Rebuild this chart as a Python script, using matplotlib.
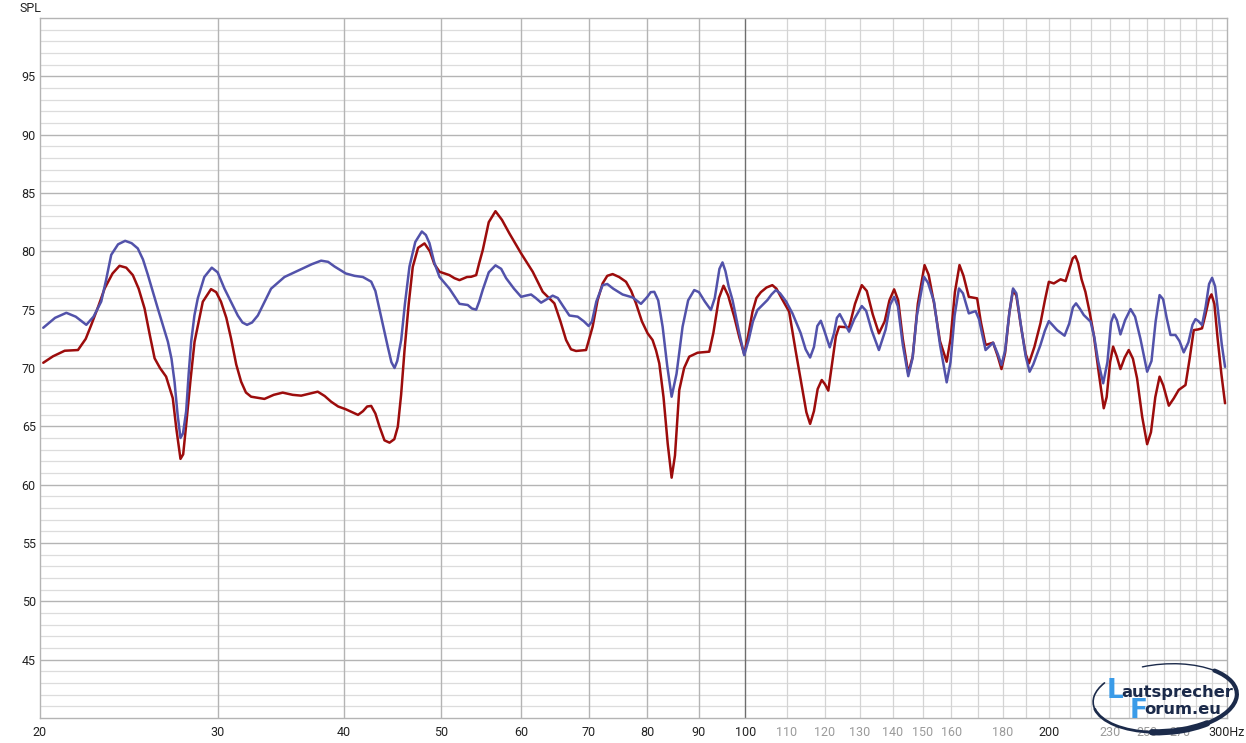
import matplotlib
matplotlib.use("Agg")
import matplotlib.pyplot as plt
from matplotlib.patches import Arc

# ---------------- data ----------------
blue_f = [20.15, 20.7, 21.24, 21.7, 22.23, 22.6, 23.0, 23.25, 23.53, 23.9, 24.29, 24.65, 25.0,
          25.3, 25.58, 26.17, 26.78, 27.0, 27.19, 27.38, 27.56, 27.72, 27.92, 28.08, 28.24,
          28.45, 28.67, 29.1, 29.6, 30.0, 30.47, 31.41, 31.75, 32.08, 32.45, 32.88, 33.4,
          33.89, 34.94, 36.58, 37.2, 37.99, 38.6, 39.17, 40.2, 41.0, 41.79, 42.59, 43.0,
          43.41, 44.24, 44.6, 44.92, 45.2, 45.61, 46.0, 46.48, 47.1, 47.81, 48.25, 48.65,
          49.2, 49.78, 50.92, 52.1, 53.09, 53.6, 54.12, 54.5, 54.94, 55.7, 56.56, 57.3,
          57.95, 59.0, 59.97, 60.6, 61.35, 62.0, 62.77, 63.6, 64.45, 65.2, 66.0, 66.95,
          68.23, 69.2, 69.96, 70.5, 71.2, 72.23, 73.0, 74.0, 75.6, 77.34, 78.84, 80.0,
          80.6, 81.27, 82.0, 82.83, 83.7, 84.55, 85.5, 86.69, 87.8, 89.03, 90.0, 91.2,
          92.48, 93.3, 94.3, 94.96, 95.6, 96.3, 97.16, 98.5, 99.78, 100.8, 101.8, 102.85,
          105.2, 106.2, 107.26, 108.3, 109.8, 111.4, 113.5, 114.8, 115.98, 117.0, 117.9,
          118.85, 119.8, 121.3, 122.5, 123.3, 124.1, 125.2, 126.77, 128.3, 130.5, 131.8,
          133.5, 135.7, 137.8, 139.2, 140.5, 141.7, 143.3, 145.1, 146.5, 148.0, 150.4,
          151.8, 153.9, 156.0, 158.4, 159.8, 161.3, 162.9, 164.4, 166.6, 169.2, 170.5,
          173.1, 176.1, 178.0, 179.5, 181.0, 182.8, 184.3, 185.7, 187.7, 189.7, 191.4,
          193.0, 196.2, 198.2, 200.0, 201.6, 203.8, 207.3, 209.5, 211.3, 212.8, 214.6,
          216.6, 220.0, 221.9, 223.8, 226.4, 228.6, 230.5, 232.0, 233.6, 235.5, 238.0,
          241.0, 243.5, 246.5, 250.3, 252.8, 255.2, 257.5, 259.6, 261.7, 264.0, 267.0,
          269.5, 272.1, 275.0, 277.6, 279.5, 281.5, 283.7, 286.0, 288.3, 290.3, 292.3,
          294.5, 296.8, 299.0]
blue_db = [73.45, 74.3, 74.73, 74.4, 73.7, 74.4, 75.7, 77.5, 79.7, 80.6, 80.9, 80.7, 80.25,
           79.3, 78.0, 75.1, 72.25, 70.8, 68.8, 66.0, 64.0, 64.4, 66.3, 69.5, 72.25,
           74.5, 75.97, 77.8, 78.6, 78.2, 76.8, 74.5, 73.9, 73.7, 73.9, 74.5, 75.7,
           76.8, 77.8, 78.6, 78.9, 79.2, 79.1, 78.7, 78.1, 77.9, 77.8, 77.4, 76.6,
           75.0, 71.8, 70.5, 70.0, 70.6, 72.4, 75.5, 78.7, 80.8, 81.7, 81.4, 80.7,
           79.0, 77.8, 76.8, 75.5, 75.4, 75.1, 75.0, 75.7, 76.7, 78.2, 78.8, 78.5,
           77.7, 76.8, 76.1, 76.2, 76.3, 76.0, 75.6, 75.9, 76.2, 76.0, 75.3, 74.5,
           74.4, 74.0, 73.6, 74.0, 75.7, 77.1, 77.2, 76.8, 76.3, 76.05, 75.5, 76.1,
           76.5, 76.53, 75.8, 73.54, 70.2, 67.54, 69.5, 73.54, 75.8, 76.68, 76.5, 75.7,
           74.97, 76.0, 78.5, 79.05, 78.3, 77.0, 75.82, 73.3, 71.1, 72.4, 74.0, 74.97,
           75.82, 76.3, 76.68, 76.4, 75.7, 74.68, 73.0, 71.6, 70.9, 71.8, 73.6,
           74.05, 73.2, 71.77, 73.0, 74.3, 74.62, 74.0, 73.11, 74.2, 75.31, 74.9,
           73.2, 71.54, 73.3, 75.4, 76.1, 75.3, 72.0, 69.3, 70.8, 74.5, 77.82,
           77.3, 75.68, 72.0, 68.77, 70.5, 74.5, 76.82, 76.4, 74.68, 74.88, 74.2,
           71.54, 72.17, 71.2, 70.26, 71.5, 74.8, 76.82, 76.4, 73.6, 71.0, 69.68,
           70.3, 71.97, 73.2, 74.02, 73.7, 73.25, 72.77, 73.8, 75.2, 75.54, 75.1,
           74.54, 73.97, 72.6, 70.6, 68.69, 70.5, 73.9, 74.6, 74.1, 72.88, 74.1,
           75.05, 74.4, 72.5, 69.68, 70.6, 74.0, 76.25, 75.9, 74.3, 72.83, 72.83,
           72.3, 71.34, 72.2, 73.7, 74.19, 74.0, 73.68, 75.2, 77.2, 77.73, 77.0,
           74.6, 72.0, 70.1]

red_f = [20.15, 20.6, 21.16, 21.81, 22.2, 22.48, 22.85, 23.18, 23.6, 23.98, 24.35, 24.72,
         25.05, 25.39, 25.7, 25.98, 26.3, 26.67, 27.08, 27.3, 27.56, 27.73, 27.92, 28.2,
         28.46, 29.0, 29.55, 29.9, 30.23, 30.6, 30.93, 31.3, 31.65, 32.0, 32.38, 33.38,
         34.1, 34.8, 35.6, 36.3, 37.0, 37.7, 38.3, 38.87, 39.5, 40.2, 40.8, 41.33, 41.8,
         42.2, 42.59, 43.0, 43.41, 43.9, 44.41, 44.9, 45.26, 45.6, 45.96, 46.4, 46.83,
         47.4, 48.1, 48.7, 49.2, 49.78, 50.92, 51.5, 52.1, 53.0, 53.5, 54.12, 54.5,
         54.94, 55.7, 56.56, 57.4, 58.39, 59.97, 61.58, 63.0, 64.7, 65.6, 66.45, 67.2,
         67.98, 69.55, 70.6, 71.4, 72.23, 73.0, 73.9, 75.0, 76.19, 77.1, 77.95, 79.0,
         80.04, 80.95, 81.6, 82.2, 83.0, 83.8, 84.55, 85.2, 86.04, 87.0, 88.02, 89.71,
         92.13, 93.0, 94.2, 95.18, 96.2, 97.53, 98.7, 99.78, 100.7, 101.69, 102.6, 103.65,
         105.0, 106.4, 107.4, 108.8, 110.56, 112.2, 113.96, 115.0, 115.98, 117.0, 118.0,
         119.1, 120.0, 120.9, 122.0, 123.0, 123.9, 126.77, 128.5, 130.5, 132.0, 133.8,
         135.7, 137.5, 139.0, 140.5, 141.8, 143.3, 145.1, 146.6, 148.3, 150.6, 152.0,
         153.9, 156.0, 158.4, 159.8, 161.4, 163.1, 164.6, 166.6, 169.8, 171.2, 173.1,
         176.1, 178.0, 179.5, 181.0, 182.8, 184.3, 185.7, 187.8, 189.7, 191.1, 193.5,
         196.2, 198.2, 200.0, 202.3, 205.4, 207.8, 209.8, 211.2, 212.5, 213.8, 215.5,
         217.4, 219.5, 221.6, 224.2, 226.7, 228.2, 230.0, 231.6, 233.5, 235.5, 237.8,
         240.0, 242.3, 244.6, 247.5, 250.3, 252.5, 255.0, 257.5, 259.7, 263.0, 266.0,
         269.0, 273.2, 275.8, 278.4, 281.0, 283.7, 285.8, 288.2, 289.9, 291.8, 294.0,
         296.5, 299.0]
red_db = [70.45, 71.0, 71.48, 71.54, 72.5, 73.68, 75.3, 76.82, 78.1, 78.76, 78.6, 77.96,
          76.8, 75.11, 72.8, 70.83, 70.0, 69.26, 67.41, 64.8, 62.21, 62.6, 65.12, 69.0,
          72.25, 75.68, 76.76, 76.5, 75.68, 74.3, 72.54, 70.3, 68.83, 67.9, 67.54, 67.35,
          67.7, 67.89, 67.7, 67.63, 67.8, 67.97, 67.6, 67.11, 66.7, 66.46, 66.2, 65.98, 66.3,
          66.7, 66.75, 66.1, 64.97, 63.8, 63.6, 63.9, 64.97, 67.7, 71.54, 75.5, 78.67,
          80.3, 80.68, 80.0, 78.9, 78.25, 77.96, 77.7, 77.53, 77.8, 77.82, 77.96, 79.0,
          80.1, 82.5, 83.44, 82.7, 81.53, 79.82, 78.25, 76.53, 75.54, 74.0, 72.4, 71.6,
          71.46, 71.54, 73.54, 75.8, 77.25, 77.9, 78.05, 77.8, 77.39, 76.6, 75.54, 74.0,
          72.97, 72.4, 71.5, 70.4, 67.5, 63.5, 60.6, 62.5, 68.12, 70.0, 70.97, 71.31,
          71.4, 73.0, 76.0, 77.05, 76.2, 74.4, 72.6, 71.2, 72.8, 74.83, 76.0, 76.5,
          76.9, 77.1, 76.8, 75.9, 74.83, 71.5, 68.12, 66.2, 65.21, 66.3, 68.2,
          68.97, 68.6, 68.06, 70.5, 72.7, 73.54, 73.48, 75.5, 77.1, 76.6, 74.6,
          72.97, 74.0, 75.8, 76.74, 75.8, 72.5, 69.55, 71.0, 75.5, 78.82, 78.0,
          75.54, 72.3, 70.54, 72.5, 76.5, 78.82, 77.9, 76.1, 75.97, 74.0, 71.97,
          72.17, 71.0, 69.91, 71.3, 74.8, 76.68, 76.2, 73.4, 71.2, 70.4, 71.8,
          73.83, 75.8, 77.39, 77.25, 77.6, 77.45, 78.6, 79.4, 79.59, 79.0, 77.6,
          76.53, 74.8, 72.83, 69.5, 66.55, 67.5, 70.5, 71.83, 71.0, 69.91, 70.9,
          71.54, 70.8, 69.12, 65.8, 63.47, 64.5, 67.5, 69.26, 68.5, 66.77, 67.4,
          68.12, 68.54, 70.8, 73.25, 73.3, 73.4, 74.5, 75.9, 76.31, 75.5, 72.5,
          69.5, 66.98]

x_label_vals = [20, 30, 40, 50, 60, 70, 80, 90, 100, 110, 120, 130, 140, 150, 160, 180,
                200, 230, 250, 270, 300]
x_label_txt = ["20", "30", "40", "50", "60", "70", "80", "90", "100", "110", "120", "130",
               "140", "150", "160", "180", "200", "230", "250", "270", "300Hz"]
x_label_dark = [20, 30, 40, 50, 60, 70, 80, 90, 100, 200, 300]
y_label_vals = [45, 50, 55, 60, 65, 70, 75, 80, 85, 90, 95]

grid_low = [30, 40, 50, 60, 70, 80, 90]
grid_high = list(range(110, 300, 10))

# ---------------- figure ----------------
W, H = 1246, 743
fig = plt.figure(figsize=(W / 100, H / 100), dpi=100)
fig.patch.set_facecolor("white")
L, R, T, B = 40, 1226.5, 18, 718
ax = fig.add_axes([L / W, (H - B) / H, (R - L) / W, (B - T) / H])
ax.set_xscale("log")
ax.set_xlim(20, 300)
ax.set_ylim(40, 100)

for v in range(41, 100):
    if v % 5 == 0:
        ax.axhline(v, color="#b4b4b4", lw=1.0, zorder=1)
    else:
        ax.axhline(v, color="#dcdcdc", lw=0.9, zorder=0.5)
for v in grid_low:
    ax.axvline(v, color="#b4b4b4", lw=1.0, zorder=1)
for v in grid_high:
    ax.axvline(v, color="#d4d4d4", lw=0.9, zorder=0.8)
ax.axvline(100, color="#6e6e6e", lw=1.0, zorder=1.2)

for s in ax.spines.values():
    s.set_color("#b4b4b4")
    s.set_linewidth(1.0)

ax.plot(red_f, red_db, color="#9c0c0c", lw=1.8, solid_joinstyle="round",
        solid_capstyle="round", zorder=3)
ax.plot(blue_f, blue_db, color="#5252aa", lw=1.8, solid_joinstyle="round",
        solid_capstyle="round", zorder=4)

font = ["Liberation Sans Narrow", "Roboto", "DejaVu Sans"]
ax.minorticks_off()
ax.set_xticks(x_label_vals, x_label_txt)
ax.set_yticks(y_label_vals, [str(v) for v in y_label_vals])
ax.tick_params(axis="both", length=0, labelsize=9)
ax.tick_params(axis="x", pad=6)
ax.tick_params(axis="y", pad=3)
for lab, v in zip(ax.get_xticklabels(), x_label_vals):
    lab.set_family(font)
    lab.set_color("#222222" if v in x_label_dark else "#9a9a9a")
for lab in ax.get_yticklabels():
    lab.set_family(font)
    lab.set_color("#222222")

fig.text(20 / W, 1 - 8 / H, "SPL", ha="left", va="center", fontsize=9,
         family=font, color="#222222")

# ---------------- logo overlay (pixel coordinates, y downward) ----------------
lo = fig.add_axes([0, 0, 1, 1], zorder=10)
lo.set_xlim(0, W)
lo.set_ylim(H, 0)
lo.axis("off")
lo.patch.set_alpha(0)
navy = "#1b2a4a"
cx, cy, ew, eh, ang = 1165, 698, 144, 68, -4
for t1, t2, w in [(35, 115, 4.5), (-25, 35, 3.0), (115, 175, 2.0), (175, 198, 1.2),
                  (238, 335, 1.0)]:
    lo.add_patch(Arc((cx, cy), ew, eh, angle=ang, theta1=t1, theta2=t2, color=navy,
                     lw=w, capstyle="round"))
lo.text(1107, 698, "L", fontsize=19, fontweight="bold", color="#3a9be8",
        family="DejaVu Sans", ha="left", va="baseline")
lo.text(1121, 697, "autsprecher", fontsize=11.8, fontweight="bold", color=navy,
        family="DejaVu Sans", ha="left", va="baseline")
lo.text(1130, 718, "F", fontsize=19, fontweight="bold", color="#3a9be8",
        family="DejaVu Sans", ha="left", va="baseline")
lo.text(1144, 714, "orum.eu", fontsize=11.8, fontweight="bold", color=navy,
        family="DejaVu Sans", ha="left", va="baseline")

fig.savefig("out.png", dpi=100, facecolor="white")
